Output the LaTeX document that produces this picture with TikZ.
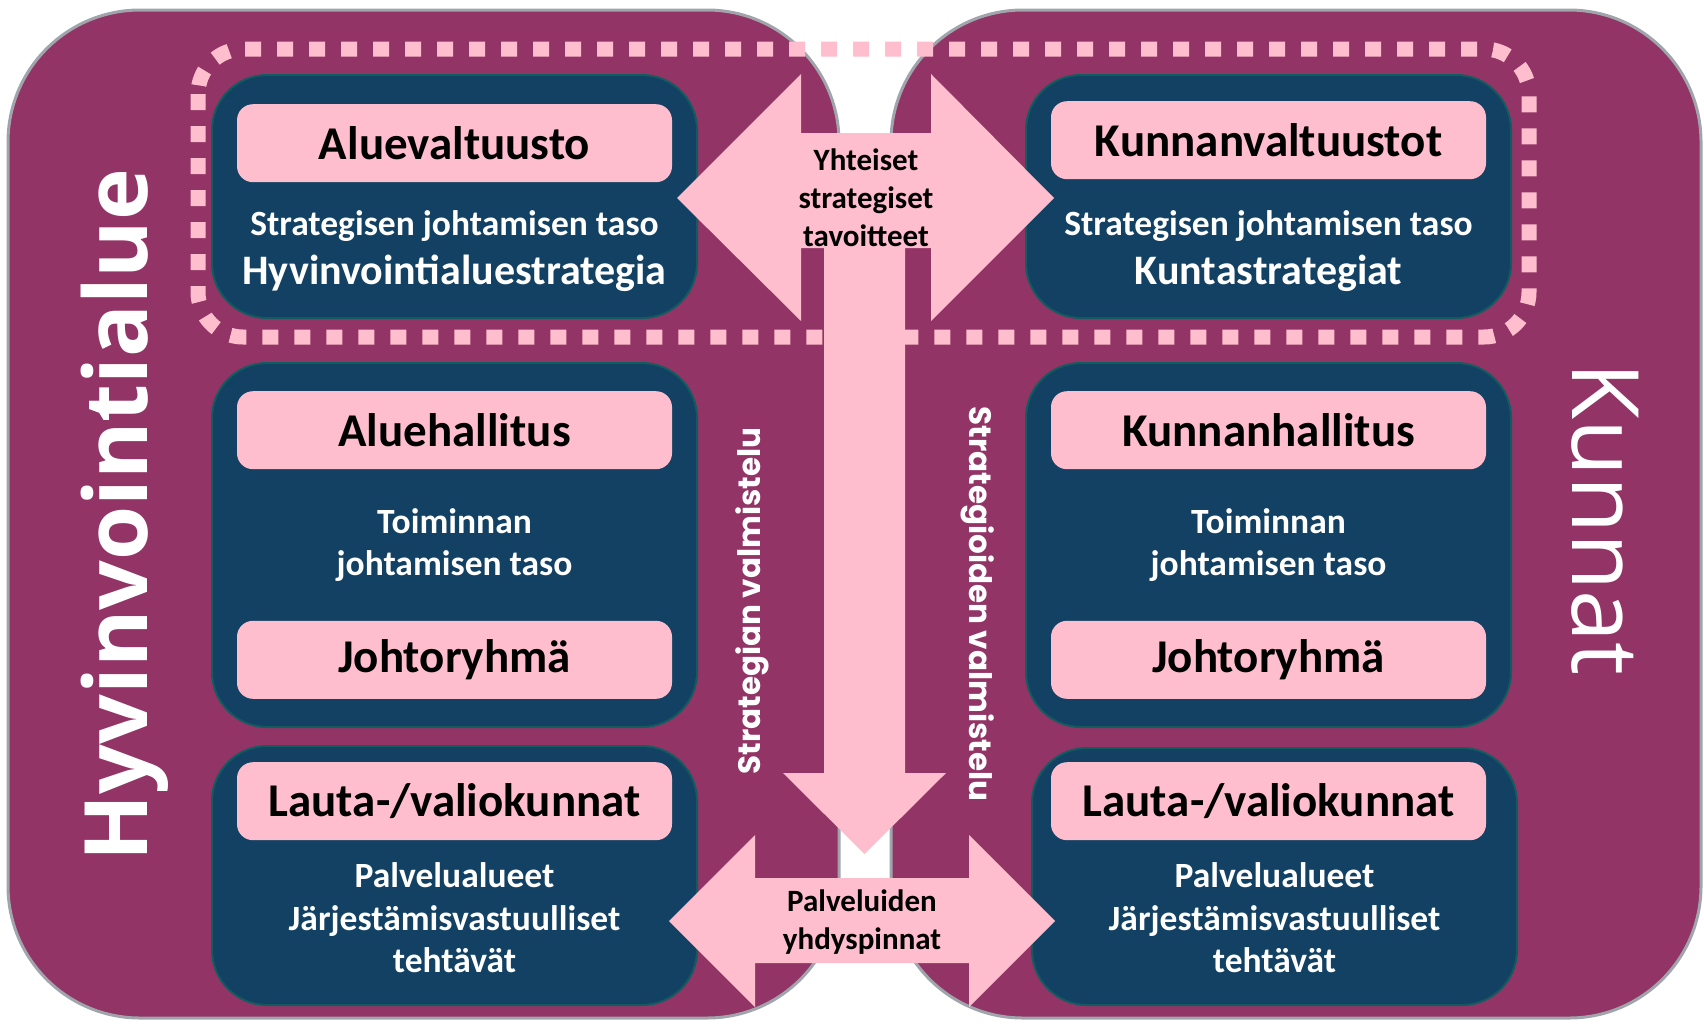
\documentclass[tikz,border=0pt]{standalone}
\usepackage{fontspec}
\setmainfont{Carlito}
\newfontfamily\sidefont{Open Sans}
\newfontfamily\prepfont{Poppins}
\usepackage{color}
\usepackage{tikz}
\usetikzlibrary{positioning}

\definecolor{maroon}{RGB}{146,52,102}
\definecolor{navy}{RGB}{19,65,99}
\definecolor{rose}{RGB}{255,190,205}
\definecolor{outline}{RGB}{160,165,172}
\definecolor{levelrim}{RGB}{18,92,96}

\begin{document}
\begin{tikzpicture}[x=1pt,y=-1pt,node distance=30pt]
	\tikzstyle{region} = [draw=outline, line width=3pt, fill=maroon, rounded corners=132pt]
	\tikzstyle{level} = [draw=levelrim, line width=2pt, fill=navy, rounded corners=55pt, minimum width=485pt]
	\tikzstyle{body} = [fill=rose, rounded corners=16pt, minimum width=435pt, minimum height=78pt, inner sep=0pt, font=\bfseries\fontsize{47}{56}\selectfont]
	\tikzstyle{note} = [text=white, align=center, inner sep=0pt, font=\bfseries\fontsize{35.5}{42.5}\selectfont]
	\tikzstyle{plan} = [text=white, inner sep=0pt, font=\bfseries\fontsize{42}{50}\selectfont]
	\tikzstyle{link} = [fill=rose]
	\tikzstyle{linktext} = [align=center, inner sep=0pt, font=\bfseries\fontsize{31}{38}\selectfont]
	\tikzstyle{side} = [text=white, inner sep=0pt, font=\sidefont\fontsize{93}{100}\selectfont]
	\tikzstyle{prep} = [text=white, inner sep=0pt, font=\prepfont\bfseries\fontsize{31}{36}\selectfont]

	\fill[white] (0,0) rectangle (1704,1023);
	\useasboundingbox (0,0) rectangle (1704,1023);

	% the two organisations
	\draw[region] (8,10) rectangle (839,1018);
	\draw[region] (891,10) rectangle (1701,1018);

	% left column
	\node[level, minimum height=243pt] (alueTop) at (454.5,196.5) {};
	\node[level, minimum height=364pt] (alueMid) at (454.5,545) {};
	\node[level, minimum height=259pt] (alueLow) at (454.5,875.5) {};
	\node[body, below=30pt of alueTop.north] (aluevaltuusto) {Aluevaltuusto};
	\node[body, below=29pt of alueMid.north] (aluehallitus) {Aluehallitus};
	\node[body, above=29pt of alueMid.south] (alueryhma) {Johtoryhmä};
	\node[body, below=17pt of alueLow.north] (alueLauta) {Lauta-/valiokunnat};
	\node[note] (alueTaso) at (454.5,226) {Strategisen johtamisen taso};
	\node[plan] (alueStrategia) at (454.5,273) {Hyvinvointialuestrategia};
	\node[note] (alueToiminta) at (454.5,545) {Toiminnan\\johtamisen taso};
	\node[note] (aluePalvelu) at (454.5,918) {Palvelualueet\\Järjestämisvastuulliset\\tehtävät};

	% right column
	\node[level, minimum height=243pt] (kuntaTop) at (1268.5,196.5) {};
	\node[level, minimum height=364pt] (kuntaMid) at (1268.5,545) {};
	\node[level, minimum height=257pt] (kuntaLow) at (1274.5,876.5) {};
	\node[body, below=27pt of kuntaTop.north] (kunnanvaltuustot) {Kunnanvaltuustot};
	\node[body, below=29pt of kuntaMid.north] (kunnanhallitus) {Kunnanhallitus};
	\node[body, above=29pt of kuntaMid.south] (kuntaryhma) {Johtoryhmä};
	\node[body, below=15pt of kuntaLow.north, xshift=-6pt] (kuntaLauta) {Lauta-/valiokunnat};
	\node[note] (kuntaTaso) at (1268.5,226) {Strategisen johtamisen taso};
	\node[plan] (kuntaStrategia) at (1268.5,273) {Kuntastrategiat};
	\node[note] (kuntaToiminta) at (1268.5,545) {Toiminnan\\johtamisen taso};
	\node[note] (kuntaPalvelu) at (1274.5,918) {Palvelualueet\\Järjestämisvastuulliset\\tehtävät};

	% strategic level frame
	\draw[rose, line width=15pt, dash pattern=on 16pt off 16pt, rounded corners=45pt] (198,49) rectangle (1529,337);

	% block arrows
	\fill[link] (677,198) -- (801,74) -- (801,133) -- (931,133) -- (931,74) -- (1054,198) -- (931,321)
		-- (931,248) -- (905,248) -- (905,773) -- (946,773) -- (864.5,854) -- (783,773) -- (824,773)
		-- (824,248) -- (801,248) -- (801,321) -- cycle;
	\fill[link] (669,921) -- (755,835) -- (755,878) -- (969,878) -- (969,835) -- (1055,921) -- (969,1007)
		-- (969,963) -- (755,963) -- (755,1007) -- cycle;
	\node[linktext] (yhteiset) at (866,198) {Yhteiset\\strategiset\\tavoitteet};
	\node[linktext] (palvelut) at (862,922) {Palveluiden\\yhdyspinnat};

	% side labels
	\node[side, font=\sidefont\bfseries\fontsize{87.5}{95}\selectfont, rotate=90] (hyvinvointialue) at (125,515) {Hyvinvointialue};
	\node[side, rotate=-90] (kunnat) at (1605,519) {Kunnat};
	\node[prep, rotate=90] (alueValmistelu) at (752,601) {Strategian valmistelu};
	\node[prep, rotate=-90] (kuntaValmistelu) at (978,604) {Strategioiden valmistelu};
\end{tikzpicture}
\end{document}
